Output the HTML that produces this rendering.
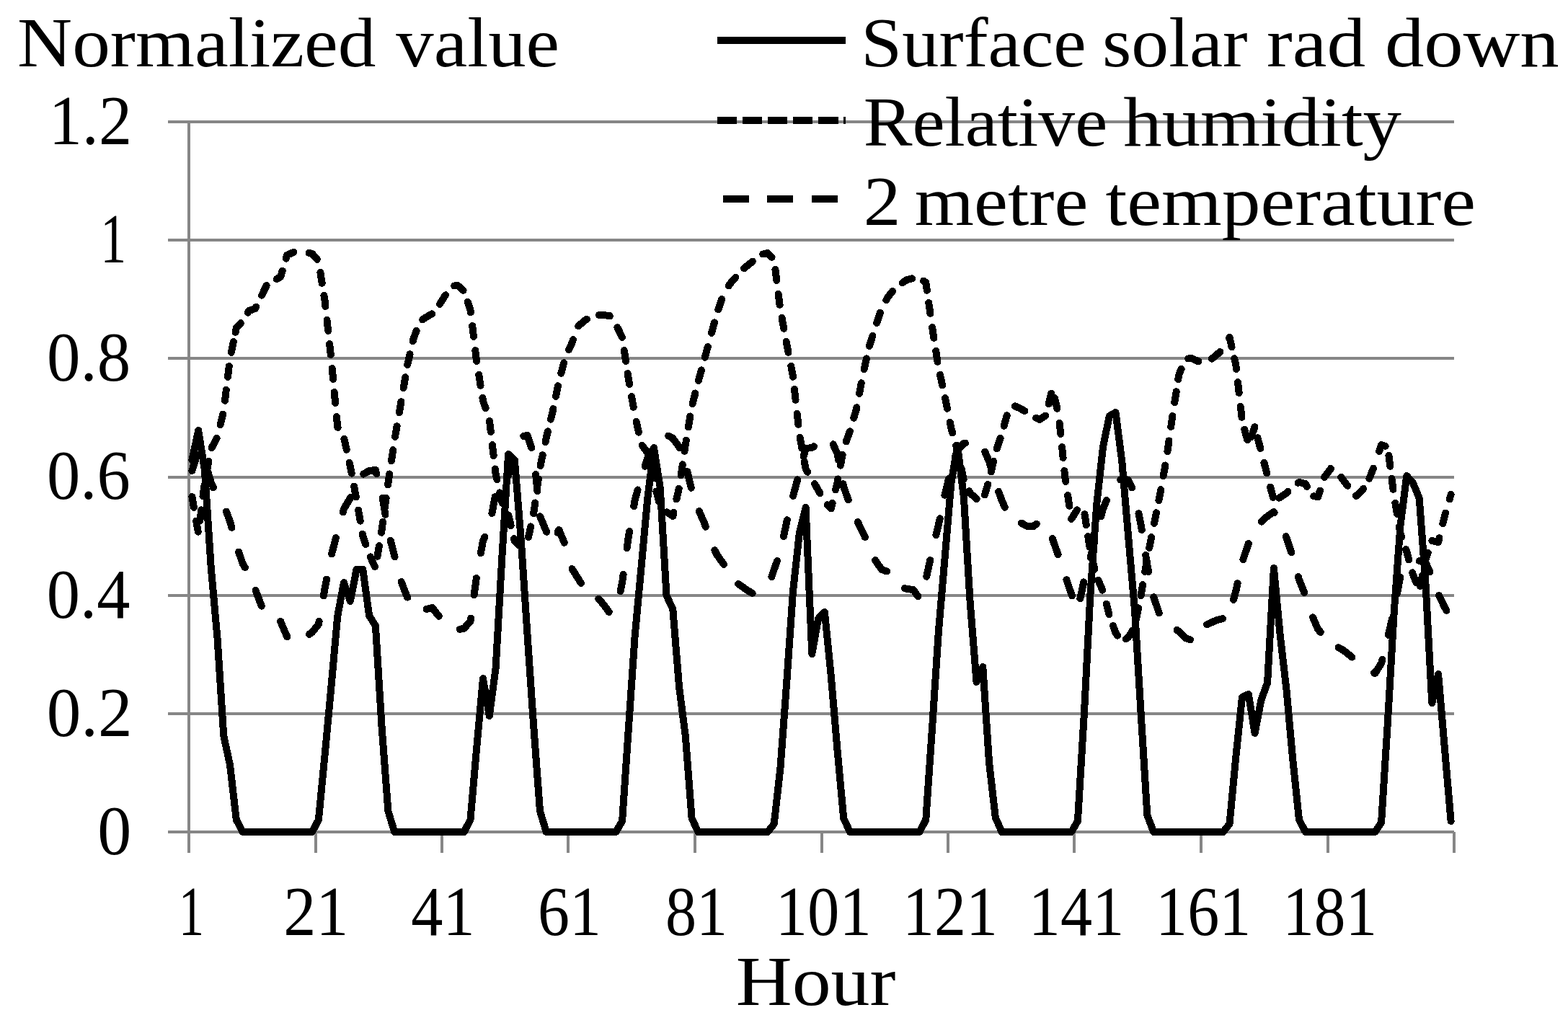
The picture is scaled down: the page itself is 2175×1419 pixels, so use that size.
<!DOCTYPE html>
<html lang="en"><head><meta charset="utf-8"><title>Normalized value by hour</title>
<style>html,body{margin:0;padding:0;background:#fff}body{width:2175px;height:1419px;overflow:hidden}svg{display:block}</style>
</head><body>
<svg width="2175" height="1419" viewBox="0 0 2175 1419">
<rect x="0" y="0" width="2175" height="1419" fill="#fff"/>
<g fill="#868686" shape-rendering="crispEdges">
<rect x="233" y="167" width="1784" height="4"/>
<rect x="233" y="331" width="1784" height="4"/>
<rect x="233" y="495" width="1784" height="4"/>
<rect x="233" y="660" width="1784" height="4"/>
<rect x="233" y="824" width="1784" height="4"/>
<rect x="233" y="988" width="1784" height="4"/>
<rect x="233" y="1152" width="1784" height="4"/>
<rect x="260" y="167" width="4" height="1016"/>
<rect x="436" y="1154" width="4" height="29"/>
<rect x="611" y="1154" width="4" height="29"/>
<rect x="786" y="1154" width="4" height="29"/>
<rect x="962" y="1154" width="4" height="29"/>
<rect x="1138" y="1154" width="4" height="29"/>
<rect x="1313" y="1154" width="4" height="29"/>
<rect x="1488" y="1154" width="4" height="29"/>
<rect x="1664" y="1154" width="4" height="29"/>
<rect x="1840" y="1154" width="4" height="29"/>
<rect x="2015" y="1154" width="4" height="29"/>
</g>
<g shape-rendering="crispEdges" fill="none" stroke="#000" stroke-width="10" stroke-linejoin="round" stroke-linecap="round">
<polyline points="266.4,638.0 275.2,597.0 283.9,652.0 292.7,787.0 301.5,885.0 310.3,1021.0 319.0,1061.0 327.8,1137.0 336.6,1154.0 345.4,1154.0 354.1,1154.0 362.9,1154.0 371.7,1154.0 380.5,1154.0 389.2,1154.0 398.0,1154.0 406.8,1154.0 415.6,1154.0 424.3,1154.0 433.1,1154.0 441.9,1137.0 450.7,1046.0 459.4,953.0 468.2,855.0 477.0,808.0 485.8,834.0 494.5,790.0 503.3,790.0 512.1,854.0 520.9,868.0 529.6,1009.0 538.4,1125.0 547.2,1154.0 556.0,1154.0 564.7,1154.0 573.5,1154.0 582.3,1154.0 591.1,1154.0 599.8,1154.0 608.6,1154.0 617.4,1154.0 626.2,1154.0 634.9,1154.0 643.7,1154.0 652.5,1137.0 661.3,1036.0 670.0,941.0 678.8,993.0 687.6,927.0 696.4,772.0 705.1,630.0 713.9,638.0 722.7,748.0 731.5,880.0 740.2,1007.0 749.0,1125.0 757.8,1154.0 766.6,1154.0 775.3,1154.0 784.1,1154.0 792.9,1154.0 801.7,1154.0 810.4,1154.0 819.2,1154.0 828.0,1154.0 836.8,1154.0 845.5,1154.0 854.3,1154.0 863.1,1139.0 871.9,1010.0 880.6,883.0 889.4,788.0 898.2,692.0 907.0,621.0 915.7,676.0 924.5,826.0 933.3,845.0 942.1,953.0 950.8,1021.0 959.6,1135.0 968.4,1154.0 977.2,1154.0 985.9,1154.0 994.7,1154.0 1003.5,1154.0 1012.3,1154.0 1021.0,1154.0 1029.8,1154.0 1038.6,1154.0 1047.4,1154.0 1056.1,1154.0 1064.9,1154.0 1073.7,1143.0 1082.5,1065.0 1091.2,947.0 1100.0,820.0 1108.8,740.0 1117.6,704.0 1126.3,907.0 1135.1,858.0 1143.9,849.0 1152.7,937.0 1161.4,1039.0 1170.2,1135.0 1179.0,1154.0 1187.8,1154.0 1196.5,1154.0 1205.3,1154.0 1214.1,1154.0 1222.9,1154.0 1231.6,1154.0 1240.4,1154.0 1249.2,1154.0 1258.0,1154.0 1266.7,1154.0 1275.5,1154.0 1284.3,1137.0 1293.1,1009.0 1301.8,877.0 1310.6,774.0 1319.4,670.0 1328.2,618.0 1336.9,690.0 1345.7,836.0 1354.5,946.0 1363.3,925.0 1372.0,1057.0 1380.8,1134.0 1389.6,1154.0 1398.4,1154.0 1407.1,1154.0 1415.9,1154.0 1424.7,1154.0 1433.5,1154.0 1442.2,1154.0 1451.0,1154.0 1459.8,1154.0 1468.6,1154.0 1477.3,1154.0 1486.1,1154.0 1494.9,1139.0 1503.7,993.0 1512.4,825.0 1521.2,700.0 1530.0,620.0 1538.8,577.0 1547.5,572.0 1556.3,640.0 1565.1,744.0 1573.9,845.0 1582.6,989.0 1591.4,1131.0 1600.2,1154.0 1609.0,1154.0 1617.7,1154.0 1626.5,1154.0 1635.3,1154.0 1644.1,1154.0 1652.8,1154.0 1661.6,1154.0 1670.4,1154.0 1679.2,1154.0 1687.9,1154.0 1696.7,1154.0 1705.5,1143.0 1714.3,1050.0 1723.0,967.0 1731.8,963.0 1740.6,1017.0 1749.4,971.0 1758.1,947.0 1766.9,788.0 1775.7,881.0 1784.5,957.0 1793.2,1053.0 1802.0,1137.0 1810.8,1154.0 1819.6,1154.0 1828.3,1154.0 1837.1,1154.0 1845.9,1154.0 1854.7,1154.0 1863.4,1154.0 1872.2,1154.0 1881.0,1154.0 1889.8,1154.0 1898.5,1154.0 1907.3,1154.0 1916.1,1141.0 1924.9,1002.0 1933.6,851.0 1942.4,730.0 1951.2,660.0 1960.0,670.0 1968.7,691.0 1977.5,810.0 1986.3,975.0 1995.1,935.0 2003.8,1037.0 2012.6,1139.0"/>
<path d="M266.4,689.0 L269.0,703.9 M272.2,722.7 L274.8,737.6 M277.3,722.4 L279.2,707.4 M281.5,688.4 L283.4,673.5 M286.7,654.6 L289.5,639.8 M293.7,621.2 L300.6,607.8 M305.6,589.3 L309.1,574.7 M312.0,555.8 L313.8,540.8 M316.0,522.9 L317.8,507.9 M320.9,488.8 L323.9,474.0 M326.6,460.9 L327.8,455.0 L333.8,448.2 M343.7,433.6 L345.4,431.0 L354.1,428.0 L355.3,425.6 M363.1,409.7 L369.7,396.1 M383.8,387.1 L389.2,384.0 L391.7,375.6 M396.7,358.6 L398.0,354.0 L406.8,350.0 L407.4,349.8 M428.5,350.9 L433.1,352.0 L439.9,359.8 M444.4,377.9 L446.7,392.9 M449.4,409.9 L450.7,418.0 L451.4,424.9 M453.5,443.9 L455.2,459.0 M457.1,477.0 L458.8,492.0 M460.7,511.0 L462.1,526.0 M463.7,544.0 L465.1,559.0 M466.9,578.0 L468.2,592.0 L468.7,592.9 M477.4,609.0 L480.7,623.8 M484.7,641.8 L485.8,646.5 L487.7,656.6 M491.1,674.7 L493.9,689.5 M497.1,707.7 L499.7,722.6 M502.8,740.7 L503.3,743.7 L507.3,755.1 M513.7,772.4 L520.0,786.1 M523.5,771.9 L526.0,757.0 M529.0,738.8 L529.6,735.0 L531.1,723.8 M533.6,705.6 L535.6,690.6 M538.1,672.3 L538.4,670.0 L540.3,657.4 M543.0,639.2 L545.2,624.2 M548.0,606.0 L550.6,591.1 M553.9,572.2 L556.0,560.0 L556.4,557.3 M559.7,538.1 L562.2,523.2 M565.2,506.0 L568.6,491.3 M572.8,473.2 L573.5,470.0 L577.6,458.9 M586.2,443.3 L591.1,440.0 L599.1,435.4 M609.9,421.9 L617.4,410.0 L618.0,409.2 M630.2,396.5 L634.9,396.0 L642.6,402.9 M648.7,418.8 L652.5,430.0 L652.9,433.2 M655.2,452.0 L657.0,467.0 M659.3,486.0 L661.1,501.0 M664.2,519.8 L666.6,534.7 M669.4,551.9 L670.0,556.0 L673.6,566.4 M679.0,583.9 L680.8,598.9 M682.9,617.2 L684.7,632.2 M686.8,650.5 L687.6,657.0 L689.4,665.3 M693.4,683.4 L696.4,697.0 L696.9,698.0 M705.2,714.4 L708.7,729.1 M713.0,747.0 L713.9,750.7 L722.4,758.2 M733.0,745.1 L736.2,730.3 M740.2,712.3 L740.2,712.0 L742.3,697.4 M744.8,679.1 L746.9,664.2 M749.7,645.9 L752.7,631.1 M756.5,613.1 L757.8,607.0 L759.9,598.4 M763.9,581.7 L766.6,571.0 L767.4,567.0 M771.0,550.0 L774.0,535.2 M778.3,517.8 L782.2,503.2 M789.1,485.1 L792.9,477.0 L795.0,471.2 M802.3,452.4 L810.4,445.0 L814.0,442.8 M831.0,437.0 L836.8,437.0 L845.5,438.0 L845.8,438.4 M856.4,454.3 L863.0,467.9 M865.8,486.0 L868.1,501.0 M870.7,518.1 L871.9,526.0 L873.1,533.0 M876.1,550.0 L878.7,564.8 M882.7,584.9 L885.9,599.6 M890.6,617.6 L898.2,628.0 L898.7,630.2 M902.7,648.5 L905.9,663.3 M910.4,681.5 L914.2,696.1 M925.2,710.4 L933.3,716.0 L934.4,710.9 M938.4,692.5 L941.7,677.8 M944.6,659.2 L946.8,644.3 M949.5,625.8 L950.8,617.0 L951.9,610.8 M954.9,592.3 L957.4,577.4 M960.6,560.2 L964.4,545.5 M968.9,528.0 L972.9,513.4 M977.8,495.7 L981.8,481.1 M987.0,462.0 L991.0,447.4 M996.3,429.4 L1001.1,415.1 M1010.7,396.5 L1012.3,394.0 L1020.3,384.8 M1032.1,372.2 L1038.6,367.0 L1043.9,362.7 M1058.1,352.5 L1064.9,351.0 L1070.6,356.8 M1075.4,373.9 L1077.3,388.9 M1079.7,407.9 L1081.6,422.9 M1084.5,440.9 L1087.3,455.8 M1090.7,473.9 L1091.2,477.0 L1093.5,488.7 M1097.3,507.9 L1100.0,522.0 L1100.1,522.8 M1102.0,539.9 L1103.6,554.9 M1105.7,573.9 L1107.4,588.9 M1109.7,606.9 L1112.4,621.7 M1115.8,640.5 L1117.6,650.5 L1120.2,654.7 M1130.0,671.1 L1135.1,680.0 L1137.5,684.3 M1147.8,700.2 L1152.7,705.5 L1154.6,697.8 M1159.1,679.3 L1161.4,670.0 L1162.4,664.5 M1165.9,645.7 L1168.6,630.9 M1173.7,612.5 L1178.9,598.3 M1184.3,579.8 L1187.8,568.0 L1188.3,565.2 M1192.0,546.0 L1194.8,531.2 M1198.7,512.2 L1201.9,497.4 M1205.9,480.0 L1210.5,465.6 M1216.1,448.0 L1220.9,433.7 M1229.3,416.2 L1231.6,412.0 L1238.1,403.9 M1251.6,392.4 L1258.0,388.0 L1265.1,386.4 M1281.0,389.6 L1284.3,392.0 L1285.8,402.9 M1288.2,420.0 L1290.4,434.9 M1293.1,454.0 L1293.1,454.0 L1295.4,468.9 M1298.2,486.8 L1300.5,501.7 M1304.0,519.8 L1307.2,534.5 M1311.0,552.0 L1314.0,566.8 M1317.8,585.8 L1319.4,594.0 L1321.2,600.5 M1326.2,617.9 L1328.2,625.0 L1329.8,632.5 M1333.6,650.2 L1336.7,665.0 M1344.4,681.3 L1345.7,684.0 L1354.5,692.0 L1354.7,692.1 M1365.9,686.4 L1370.2,672.0 M1374.7,654.5 L1378.1,639.8 M1382.7,622.3 L1387.6,608.0 M1392.7,590.7 L1396.7,576.2 M1407.9,563.3 L1415.9,567.0 L1421.3,570.1 M1437.1,579.7 L1442.2,582.0 L1450.1,576.6 M1454.7,560.4 L1458.2,545.7 M1462.9,552.0 L1466.4,566.7 M1469.7,586.9 L1471.2,602.0 M1473.1,620.0 L1474.6,635.0 M1476.4,653.0 L1477.3,662.0 L1478.2,667.9 M1481.1,687.0 L1483.4,701.9 M1486.1,719.8 L1486.1,720.0 L1494.0,707.3 M1504.5,713.3 L1506.8,728.2 M1509.2,744.0 L1511.5,758.9 M1514.9,774.7 L1518.5,789.3 M1523.3,804.7 L1529.4,818.6 M1534.7,837.6 L1538.5,852.2 M1544.0,868.0 L1547.5,878.0 L1550.2,881.6 M1561.6,886.4 L1565.1,884.0 L1570.9,874.8 M1576.2,858.2 L1579.2,843.4 M1582.6,826.1 L1582.6,826.0 L1585.1,811.2 M1588.2,793.0 L1590.7,778.2 M1594.2,760.0 L1597.1,745.2 M1601.0,726.0 L1603.9,711.2 M1607.4,694.1 L1609.0,686.0 L1610.2,679.2 M1613.7,660.3 L1616.4,645.4 M1619.4,626.3 L1621.5,611.4 M1624.2,592.0 L1626.4,577.1 M1629.3,558.1 L1631.7,543.1 M1634.3,526.1 L1635.3,520.0 L1638.6,511.7 M1648.2,497.5 L1652.8,497.0 L1661.6,501.0 L1662.4,501.1 M1680.8,497.7 L1687.9,492.0 L1692.3,488.0 M1704.9,469.0 L1705.5,468.0 L1708.6,481.5 M1712.2,497.2 L1714.3,506.0 L1714.9,512.0 M1717.0,530.0 L1718.7,545.0 M1720.8,563.9 L1722.5,578.9 M1726.2,595.7 L1730.2,610.2 M1735.3,606.5 L1740.5,592.3 M1744.5,607.3 L1748.3,622.0 M1753.4,641.6 L1757.2,656.3 M1762.1,675.5 L1765.9,690.1 M1774.3,690.6 L1775.7,690.0 L1784.5,684.0 L1786.4,681.8 M1800.5,669.9 L1802.0,669.0 L1810.8,671.0 L1812.8,674.9 M1822.2,688.3 L1828.3,689.0 L1831.1,680.5 M1837.1,662.0 L1837.1,662.0 L1845.9,650.0 L1846.1,650.1 M1860.2,661.9 L1863.4,666.0 L1869.2,673.9 M1880.6,687.5 L1881.0,688.0 L1889.8,680.0 L1891.1,677.8 M1899.4,663.8 L1905.0,649.7 M1913.2,625.9 L1916.1,617.0 L1921.6,618.9 M1926.4,631.8 L1928.3,646.8 M1930.5,663.9 L1932.5,678.9 M1935.3,697.8 L1937.8,712.7 M1940.8,730.4 L1942.4,740.0 L1944.2,745.0 M1950.1,762.0 L1951.2,765.0 L1954.3,776.5 M1959.2,794.2 L1960.0,797.0 L1964.5,808.3 M1969.9,813.1 L1973.0,798.3 M1976.5,781.1 L1977.5,776.0 L1980.7,766.7 M1986.3,750.1 L1986.3,750.0 L1995.1,752.0 L1996.5,746.2 M2001.3,726.3 L2003.8,716.0 L2005.1,711.7 M2010.7,692.5 L2012.6,686.0"/>
<path d="M266.4,653.0 L273.4,630.7 M288.3,654.3 L292.7,669.0 L295.9,676.3 M313.9,709.6 L319.0,723.0 L321.4,731.8 M331.1,765.6 L336.6,781.7 L339.9,787.2 M354.5,818.8 L362.8,840.7 M389.1,861.9 L389.2,862.0 L398.0,883.0 L398.5,883.2 M428.9,879.9 L433.1,877.0 L441.9,866.0 L442.6,861.8 M448.8,826.5 L450.7,815.6 L453.0,803.5 M460.1,768.5 L465.9,745.9 M475.7,710.5 L477.0,705.7 L485.8,691.0 L486.3,689.8 M504.1,657.6 L512.1,653.0 L520.9,652.0 L522.3,657.2 M530.7,690.8 L534.5,713.9 M541.7,749.8 L547.2,771.0 L547.6,772.5 M556.7,807.1 L564.7,828.0 L565.5,828.6 M591.5,844.9 L599.8,843.0 L608.6,854.6 L608.8,854.8 M637.8,873.0 L643.7,871.6 L652.5,862.0 L653.1,857.7 M657.6,825.1 L660.8,802.0 M666.9,767.2 L670.0,750.0 L672.5,744.6 M682.4,712.0 L686.8,689.0 M705.3,659.3 L711.9,636.9 M726.2,604.9 L731.5,604.0 L737.2,621.1 M743.1,658.0 L745.5,681.3 M749.2,716.4 L757.8,737.0 L758.3,737.9 M773.5,738.7 L775.3,735.0 L782.8,752.8 M793.5,789.0 L801.7,802.0 L805.9,808.8 M830.3,830.6 L836.8,838.0 L844.8,849.0 M860.7,819.9 L863.1,808.0 L864.6,796.9 M869.7,760.1 L871.9,744.0 L873.1,736.9 M879.2,702.2 L880.6,694.0 L884.6,679.5 M894.6,646.7 L898.2,636.0 L904.0,625.4 M927.2,604.5 L933.3,608.0 L942.1,620.0 L942.6,621.5 M953.3,654.0 L958.8,676.7 M969.8,709.1 L977.2,726.0 L978.7,730.7 M991.4,763.3 L994.7,770.0 L1003.5,782.0 L1004.1,782.9 M1024.0,810.0 L1029.8,814.0 L1038.6,820.0 L1043.6,822.8 M1070.3,800.1 L1073.7,790.0 L1078.1,778.0 M1087.0,744.2 L1091.2,724.0 L1091.9,721.3 M1100.1,688.0 L1106.2,665.4 M1114.7,633.1 L1117.6,622.0 L1126.3,621.0 L1128.9,619.3 M1155.6,616.4 L1161.4,629.0 L1163.2,638.3 M1169.5,671.2 L1170.2,675.0 L1176.7,693.4 M1189.8,724.1 L1196.5,738.0 L1199.9,745.2 M1214.1,777.0 L1214.1,777.0 L1222.9,790.0 L1230.1,792.5 M1255.0,816.0 L1258.0,817.0 L1266.7,818.0 L1273.5,827.2 M1285.2,799.8 L1290.2,777.0 M1298.4,742.1 L1301.8,728.0 L1303.7,719.3 M1310.4,686.8 L1310.6,686.0 L1316.0,664.1 M1325.4,632.3 L1328.2,624.0 L1336.9,615.0 L1339.0,614.5 M1366.2,626.8 L1372.0,640.0 L1374.6,648.6 M1385.2,681.9 L1389.6,694.0 L1393.8,703.7 M1416.7,725.5 L1424.7,730.0 L1433.5,730.0 L1437.7,726.6 M1459.8,747.1 L1467.6,769.1 M1479.4,804.2 L1486.1,824.0 L1487.0,826.3 M1498.3,830.3 L1503.3,807.4 M1512.7,773.2 L1518.5,750.5 M1527.4,716.1 L1530.0,706.0 L1534.8,694.0 M1554.1,665.5 L1556.3,664.0 L1565.1,666.0 L1570.2,676.5 M1579.5,712.1 L1582.6,728.0 L1583.8,735.1 M1589.2,770.0 L1591.4,784.0 L1593.2,793.0 M1600.3,828.2 L1607.8,850.4 M1632.6,873.8 L1635.3,876.0 L1644.1,885.0 L1651.0,887.4 M1674.1,866.3 L1679.2,864.0 L1687.9,860.0 L1696.0,858.2 M1711.0,832.0 L1714.3,820.0 L1716.6,809.3 M1724.3,776.1 L1731.8,754.0 L1731.9,754.0 M1749.7,723.7 L1758.1,716.0 L1766.9,710.0 L1767.6,711.2 M1783.7,744.1 L1784.5,746.0 L1791.3,766.2 M1800.9,800.0 L1802.0,804.0 L1809.2,821.9 M1821.1,856.4 L1828.3,873.0 L1831.8,877.0 M1856.5,898.1 L1863.4,902.0 L1872.2,909.0 L1875.5,911.6 M1905.9,933.2 L1907.3,934.0 L1916.1,920.0 L1917.4,914.9 M1925.8,880.8 L1931.1,858.0 M1938.0,823.5 L1942.3,800.5 M1968.8,778.0 L1977.5,780.0 L1983.3,793.2 M1996.0,826.0 L2003.8,842.0 L2006.5,846.9"/>
</g>
<g fill="#000" shape-rendering="crispEdges">
<rect x="995" y="51" width="178" height="10"/>
<rect x="995" y="162" width="27" height="10"/>
<rect x="1030" y="162" width="27" height="10"/>
<rect x="1065" y="162" width="27" height="10"/>
<rect x="1100" y="162" width="27" height="10"/>
<rect x="1135" y="162" width="28" height="10"/>
<rect x="1170" y="162" width="3" height="10"/>
<rect x="1003" y="271" width="36" height="10"/>
<rect x="1064" y="271" width="36" height="10"/>
<rect x="1126" y="271" width="36" height="10"/>
</g>
<text y="92.00" font-family="'Liberation Serif', 'DejaVu Serif', serif" font-size="98" fill="#000"><tspan x="24.04" textLength="497.55" lengthAdjust="spacingAndGlyphs">Normalized</tspan> <tspan x="549.30" textLength="226.83" lengthAdjust="spacingAndGlyphs">value</tspan></text>
<text y="92.00" font-family="'Liberation Serif', 'DejaVu Serif', serif" font-size="98" fill="#000"><tspan x="1194.34" textLength="312.41" lengthAdjust="spacingAndGlyphs">Surface</tspan> <tspan x="1528.95" textLength="201.59" lengthAdjust="spacingAndGlyphs">solar</tspan> <tspan x="1757.05" textLength="136.98" lengthAdjust="spacingAndGlyphs">rad</tspan> <tspan x="1920.95" textLength="241.78" lengthAdjust="spacingAndGlyphs">down</tspan></text>
<text y="202.00" font-family="'Liberation Serif', 'DejaVu Serif', serif" font-size="98" fill="#000"><tspan x="1197.65" textLength="338.60" lengthAdjust="spacingAndGlyphs">Relative</tspan> <tspan x="1558.23" textLength="385.82" lengthAdjust="spacingAndGlyphs">humidity</tspan></text>
<text y="312.00" font-family="'Liberation Serif', 'DejaVu Serif', serif" font-size="98" fill="#000"><tspan x="1197.86" textLength="51.75" lengthAdjust="spacingAndGlyphs">2</tspan> <tspan x="1268.89" textLength="240.46" lengthAdjust="spacingAndGlyphs">metre</tspan> <tspan x="1533.42" textLength="513.54" lengthAdjust="spacingAndGlyphs">temperature</tspan></text>
<text y="199.90" font-family="'Liberation Serif', 'DejaVu Serif', serif" font-size="97" fill="#000"><tspan x="67.70" textLength="115.34" lengthAdjust="spacingAndGlyphs">1.2</tspan></text>
<text y="364.07" font-family="'Liberation Serif', 'DejaVu Serif', serif" font-size="97" fill="#000"><tspan x="139.32" textLength="36.00" lengthAdjust="spacingAndGlyphs">1</tspan></text>
<text y="528.23" font-family="'Liberation Serif', 'DejaVu Serif', serif" font-size="97" fill="#000"><tspan x="65.08" textLength="116.13" lengthAdjust="spacingAndGlyphs">0.8</tspan></text>
<text y="692.40" font-family="'Liberation Serif', 'DejaVu Serif', serif" font-size="97" fill="#000"><tspan x="65.10" textLength="115.68" lengthAdjust="spacingAndGlyphs">0.6</tspan></text>
<text y="856.57" font-family="'Liberation Serif', 'DejaVu Serif', serif" font-size="97" fill="#000"><tspan x="64.80" textLength="115.55" lengthAdjust="spacingAndGlyphs">0.4</tspan></text>
<text y="1020.73" font-family="'Liberation Serif', 'DejaVu Serif', serif" font-size="97" fill="#000"><tspan x="64.69" textLength="119.02" lengthAdjust="spacingAndGlyphs">0.2</tspan></text>
<text y="1184.90" font-family="'Liberation Serif', 'DejaVu Serif', serif" font-size="97" fill="#000"><tspan x="135.24" textLength="47.02" lengthAdjust="spacingAndGlyphs">0</tspan></text>
<text y="1296.90" font-family="'Liberation Serif', 'DejaVu Serif', serif" font-size="97.5" fill="#000"><tspan x="247.82" textLength="35.43" lengthAdjust="spacingAndGlyphs">1</tspan></text>
<text y="1296.90" font-family="'Liberation Serif', 'DejaVu Serif', serif" font-size="97.5" fill="#000"><tspan x="393.19" textLength="90.22" lengthAdjust="spacingAndGlyphs">21</tspan></text>
<text y="1296.90" font-family="'Liberation Serif', 'DejaVu Serif', serif" font-size="97.5" fill="#000"><tspan x="570.23" textLength="88.37" lengthAdjust="spacingAndGlyphs">41</tspan></text>
<text y="1296.90" font-family="'Liberation Serif', 'DejaVu Serif', serif" font-size="97.5" fill="#000"><tspan x="745.88" textLength="88.00" lengthAdjust="spacingAndGlyphs">61</tspan></text>
<text y="1296.90" font-family="'Liberation Serif', 'DejaVu Serif', serif" font-size="97.5" fill="#000"><tspan x="922.95" textLength="86.22" lengthAdjust="spacingAndGlyphs">81</tspan></text>
<text y="1296.90" font-family="'Liberation Serif', 'DejaVu Serif', serif" font-size="97.5" fill="#000"><tspan x="1075.71" textLength="133.11" lengthAdjust="spacingAndGlyphs">101</tspan></text>
<text y="1296.90" font-family="'Liberation Serif', 'DejaVu Serif', serif" font-size="97.5" fill="#000"><tspan x="1252.08" textLength="132.00" lengthAdjust="spacingAndGlyphs">121</tspan></text>
<text y="1296.90" font-family="'Liberation Serif', 'DejaVu Serif', serif" font-size="97.5" fill="#000"><tspan x="1426.85" textLength="132.44" lengthAdjust="spacingAndGlyphs">141</tspan></text>
<text y="1296.90" font-family="'Liberation Serif', 'DejaVu Serif', serif" font-size="97.5" fill="#000"><tspan x="1603.07" textLength="132.22" lengthAdjust="spacingAndGlyphs">161</tspan></text>
<text y="1296.90" font-family="'Liberation Serif', 'DejaVu Serif', serif" font-size="97.5" fill="#000"><tspan x="1779.13" textLength="131.11" lengthAdjust="spacingAndGlyphs">181</tspan></text>
<text y="1394.40" font-family="'Liberation Serif', 'DejaVu Serif', serif" font-size="98" fill="#000"><tspan x="1020.66" textLength="221.91" lengthAdjust="spacingAndGlyphs">Hour</tspan></text>
</svg></body></html>
